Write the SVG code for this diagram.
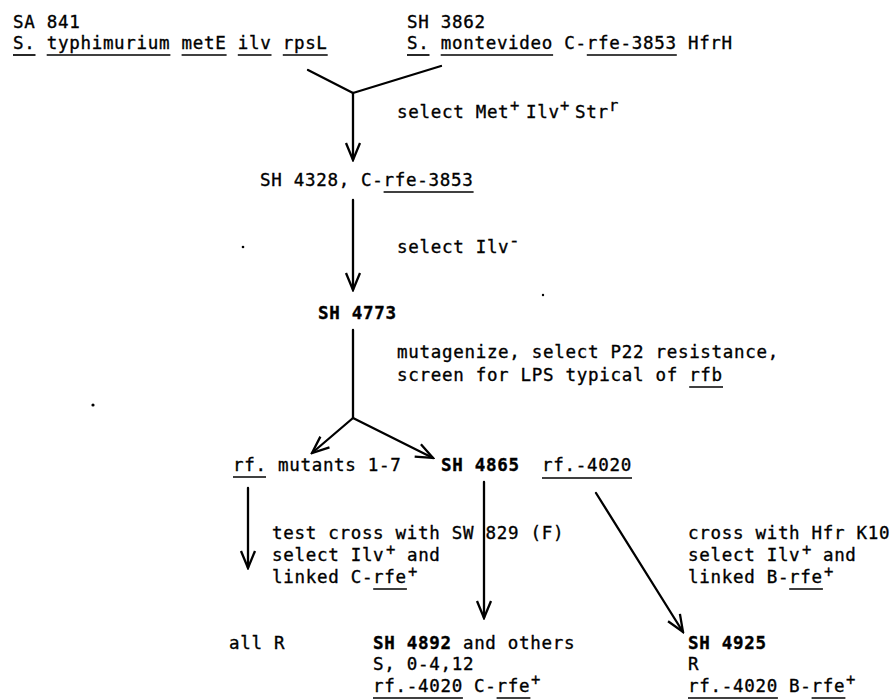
<svg xmlns="http://www.w3.org/2000/svg" width="891" height="700" viewBox="0 0 891 700">
<style>
.t{font-family:"DejaVu Sans Mono","Liberation Mono",monospace;font-size:17.5px;letter-spacing:0.7px;fill:#000;stroke:#000;stroke-width:0.35px}
.b{font-weight:bold}
.s{font-size:15.5px}
.u{stroke:#000;stroke-width:1.7}
.c{stroke:#000;stroke-width:2.3;fill:none;stroke-linecap:round}
.dot{fill:#000}
</style>
<defs>
<marker id="ah" viewBox="-19 -9 21 18" refX="0" refY="0" markerUnits="userSpaceOnUse" markerWidth="21" markerHeight="18" orient="auto">
<path d="M-17,-7 L0,0 L-17,7" fill="none" stroke="#000" stroke-width="2.3" stroke-linejoin="miter"/>
</marker>
</defs>
<rect width="891" height="700" fill="#fff"/>

<g id="connectors">
<line class="c" x1="308" y1="70" x2="353" y2="93"/>
<line class="c" x1="441" y1="66" x2="353" y2="93"/>
<line class="c" x1="353" y1="93" x2="353" y2="160" marker-end="url(#ah)"/>
<line class="c" x1="353" y1="200" x2="353" y2="290" marker-end="url(#ah)"/>
<line class="c" x1="353" y1="330" x2="353" y2="418"/>
<line class="c" x1="353" y1="418" x2="312" y2="453" marker-end="url(#ah)"/>
<line class="c" x1="353" y1="418" x2="433" y2="458" marker-end="url(#ah)"/>
<line class="c" x1="248" y1="488" x2="248" y2="568" marker-end="url(#ah)"/>
<line class="c" x1="484" y1="482" x2="484" y2="618" marker-end="url(#ah)"/>
<line class="c" x1="596" y1="493" x2="683" y2="632" marker-end="url(#ah)"/>
</g>

<g id="sa841">
<text class="t" x="13" y="28">SA 841</text>
<text class="t" x="13" y="49">S. typhimurium metE ilv rpsL</text>
<line class="u" x1="13" y1="55" x2="35.5" y2="55"/>
<line class="u" x1="46.7" y1="55" x2="170.4" y2="55"/>
<line class="u" x1="181.6" y1="55" x2="226.6" y2="55"/>
<line class="u" x1="237.8" y1="55" x2="271.5" y2="55"/>
<line class="u" x1="282.8" y1="55" x2="327.7" y2="55"/>
</g>

<g id="sh3862">
<text class="t" x="407" y="28">SH 3862</text>
<text class="t" x="407" y="49">S. montevideo C-rfe-3853 HfrH</text>
<line class="u" x1="407" y1="55" x2="429.5" y2="55"/>
<line class="u" x1="440.7" y1="55" x2="553.1" y2="55"/>
<line class="u" x1="586.8" y1="55" x2="676.8" y2="55"/>
</g>

<g id="label1">
<text class="t" x="397" y="118">select Met<tspan class="s" x="510" dy="-7">+</tspan><tspan x="526" dy="7">Ilv</tspan><tspan class="s" x="560" dy="-7">+</tspan><tspan x="575" dy="7">Str</tspan><tspan class="s" x="609" dy="-7">r</tspan></text>
</g>

<g id="sh4328">
<text class="t" x="260" y="186">SH 4328, C-rfe-3853</text>
<line class="u" x1="383.6" y1="192" x2="473.6" y2="192"/>
</g>

<g id="label2">
<text class="t" x="397" y="253">select Ilv<tspan x="509" dy="-7">-</tspan></text>
</g>

<g id="sh4773">
<text class="t b" x="318" y="319">SH 4773</text>
</g>

<g id="label3">
<text class="t" x="397" y="358">mutagenize, select P22 resistance,</text>
<text class="t" x="397" y="381">screen for LPS typical of rfb</text>
<line class="u" x1="689.2" y1="387" x2="723" y2="387"/>
</g>

<g id="rfmutants">
<text class="t" x="233" y="471">rf. mutants 1-7</text>
<line class="u" x1="233" y1="477" x2="266" y2="477"/>
</g>

<g id="sh4865">
<text class="t" x="441" y="471"><tspan class="b">SH 4865</tspan><tspan x="542">rf.-4020</tspan></text>
<line class="u" x1="542" y1="478" x2="632" y2="478"/>
</g>

<g id="label4">
<text class="t" x="272" y="539">test cross with SW 829 (F)</text>
<text class="t" x="272" y="561">select Ilv<tspan class="s" x="386" dy="-6">+</tspan><tspan x="406.9" dy="6">and</tspan></text>
<text class="t" x="272" y="583">linked C-rfe<tspan class="s" x="408" dy="-6">+</tspan></text>
<line class="u" x1="373.2" y1="589" x2="406.9" y2="589"/>
</g>

<g id="label5">
<text class="t" x="688" y="539">cross with Hfr K10</text>
<text class="t" x="688" y="561">select Ilv<tspan class="s" x="802" dy="-6">+</tspan><tspan x="822.9" dy="6">and</tspan></text>
<text class="t" x="688" y="583">linked B-rfe<tspan class="s" x="824" dy="-6">+</tspan></text>
<line class="u" x1="789.2" y1="589" x2="822.9" y2="589"/>
</g>

<g id="allR">
<text class="t" x="229" y="649">all R</text>
</g>

<g id="sh4892">
<text class="t" x="373" y="649"><tspan class="b">SH 4892</tspan> and others</text>
<text class="t" x="373" y="670">S, 0-4,12</text>
<text class="t" x="373" y="692">rf.-4020 C-rfe<tspan class="s" x="531" dy="-7">+</tspan></text>
<line class="u" x1="373" y1="698" x2="462.9" y2="698"/>
<line class="u" x1="496.6" y1="698" x2="530.4" y2="698"/>
</g>

<g id="sh4925">
<text class="t b" x="688" y="649">SH 4925</text>
<text class="t" x="688" y="670">R</text>
<text class="t" x="688" y="692">rf.-4020 B-rfe<tspan class="s" x="846" dy="-7">+</tspan></text>
<line class="u" x1="688" y1="698" x2="777.9" y2="698"/>
<line class="u" x1="811.6" y1="698" x2="845.4" y2="698"/>
</g>

<g id="specks">
<circle class="dot" cx="243" cy="247" r="1.3"/>
<circle class="dot" cx="543" cy="295" r="1.2"/>
<circle class="dot" cx="93" cy="405" r="1.6"/>
</g>
</svg>
